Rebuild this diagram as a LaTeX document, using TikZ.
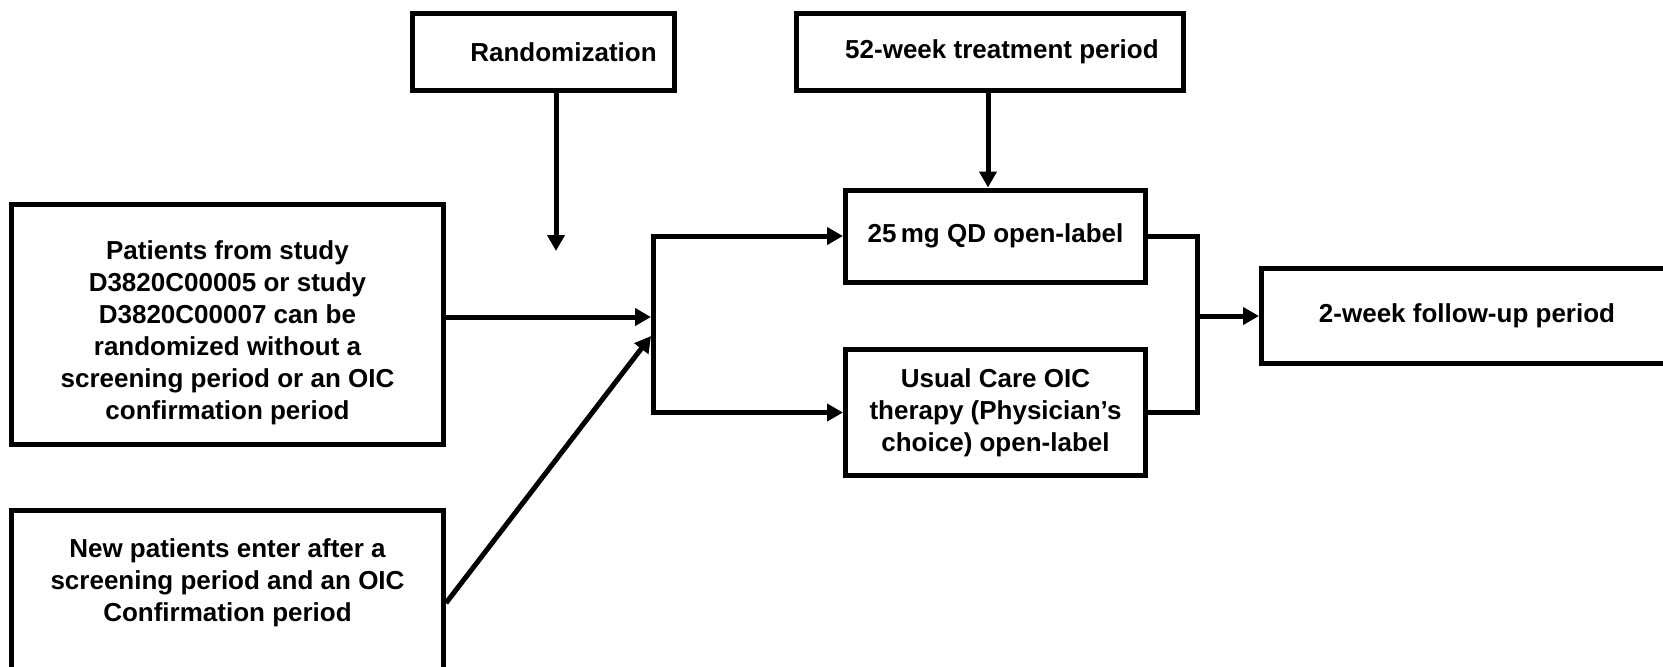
\documentclass[tikz,border=0pt]{standalone}
\usepackage{fontspec}
\setmainfont{Liberation Sans}
\usetikzlibrary{arrows.meta}
\begin{document}
\begin{tikzpicture}[x=0.5pt,y=-0.5pt,
  box/.style={draw,line width=2.5pt,inner sep=0pt,align=center,font=\bfseries\fontsize{13}{16}\selectfont},
  txt/.style={inner sep=0pt,align=center,font=\bfseries\fontsize{13}{16}\selectfont},
  arr/.style={line width=2.5pt,-{Triangle[length=8pt,width=8.5pt]}},
  ln/.style={line width=2.5pt}]
\useasboundingbox[fill=white] (0,0) rectangle (1663,666);
% top boxes
\node[box,minimum width=131pt,minimum height=38.5pt] (rand) at (543.5,52) {\hspace*{20pt}Randomization};
\node[box,minimum width=193.5pt,minimum height=38.5pt] (tp) at (990,52) {\hspace*{12pt}52-week treatment period};
% left boxes
\node[box,minimum width=216pt,minimum height=120pt] (b1) at (227.5,324.5) {\rule{0pt}{18pt}Patients from study\\D3820C00005 or study\\D3820C00007 can be\\randomized without a\\screening period or an OIC\\confirmation period};
\node[box,minimum width=216pt,minimum height=119.75pt] (b2) at (227.5,630) {};
\node[txt] (b2t) at (227.5,583) {New patients enter after a\\screening period and an OIC\\Confirmation period};
% treatment boxes
\node[box,minimum width=150pt,minimum height=46pt] (q1) at (995.5,236) {25\,mg QD open-label};
\node[box,minimum width=150pt,minimum height=63pt] (uc) at (995.5,412.5) {Usual Care OIC\\therapy (Physician’s\\choice) open-label};
% follow-up
\node[box,minimum width=205.5pt,minimum height=47.5pt] (fu) at (1467,316) {2-week follow-up period};
% coordinates
\coordinate (randend) at (556,251);
\coordinate (bl) at (653,0);
\coordinate (j1) at (651,317);
\coordinate (j2) at (651,336);
\coordinate (d0) at (0,603);
\coordinate (rb) at (1197,0);
% connectors
\draw[arr] (rand.south -| randend) -- (randend);
\draw[arr] (tp.south -| 988,0) -- (q1.north -| 988,0);
\draw[arr] (b1.east |- j1) -- (j1);
\draw[arr] (b2.east |- d0) -- (j2);
\draw[arr] (bl |- uc.west) |- (q1.west);
\draw[arr] (bl |- q1.west) |- (uc.west);
\draw[ln] (q1.east) -| (rb |- uc.east) -- (uc.east);
\draw[arr] (rb |- fu.west) -- (fu.west);
\end{tikzpicture}
\end{document}
